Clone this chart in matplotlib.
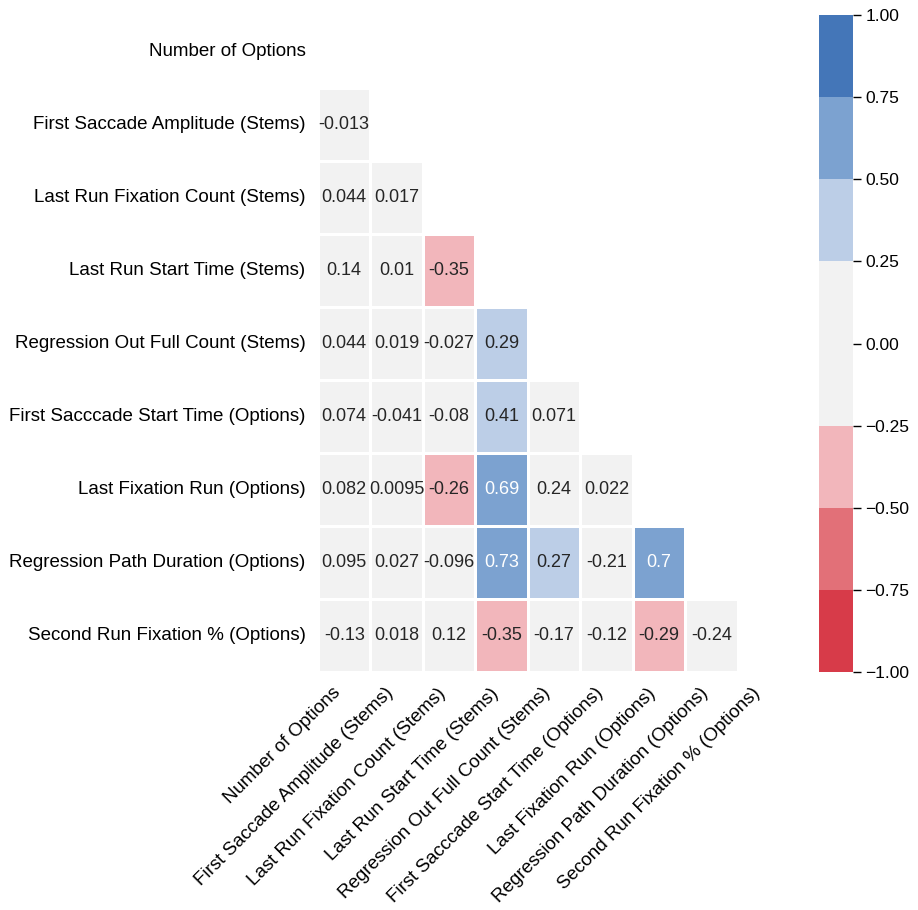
import numpy as np
import pandas as pd
import seaborn as sns
import matplotlib
matplotlib.use("Agg")
import matplotlib.pyplot as plt
from matplotlib.colors import ListedColormap

sns.set_style("white")
plt.rcParams['font.family'] = ['Liberation Sans', 'DejaVu Sans']
plt.rcParams['text.color'] = 'black'
plt.rcParams['xtick.color'] = 'black'
plt.rcParams['ytick.color'] = 'black'

labels = [
    "Number of Options",
    "First Saccade Amplitude (Stems)",
    "Last Run Fixation Count (Stems)",
    "Last Run Start Time (Stems)",
    "Regression Out Full Count (Stems)",
    "First Sacccade Start Time (Options)",
    "Last Fixation Run (Options)",
    "Regression Path Duration (Options)",
    "Second Run Fixation % (Options)",
]

# lower triangle of the correlation matrix, row by row
lower_rows = [
    [],
    [-0.013],
    [0.044, 0.017],
    [0.14, 0.01, -0.35],
    [0.044, 0.019, -0.027, 0.29],
    [0.074, -0.041, -0.08, 0.41, 0.071],
    [0.082, 0.0095, -0.26, 0.69, 0.24, 0.022],
    [0.095, 0.027, -0.096, 0.73, 0.27, -0.21, 0.7],
    [-0.13, 0.018, 0.12, -0.35, -0.17, -0.12, -0.29, -0.24],
]

palette = ["#d73b49", "#e27078", "#f2b6bb", "#f2f2f2",
           "#f2f2f2", "#bccee7", "#7ca2d0", "#4476b8"]

n = len(labels)
corr = np.eye(n)
for i, row in enumerate(lower_rows):
    for j, v in enumerate(row):
        corr[i, j] = v
        corr[j, i] = v
corr = pd.DataFrame(corr, index=labels, columns=labels)
mask = np.triu(np.ones((n, n), dtype=bool))

fig = plt.figure(figsize=(9.18, 9.10), dpi=100)
ax = fig.add_axes([0.3464, 0.2615, 0.5142, 0.722])
cax = fig.add_axes([0.892, 0.2615, 0.037, 0.722])

sns.heatmap(corr, mask=mask, cmap=ListedColormap(palette), vmin=-1, vmax=1,
            annot=True, annot_kws={"size": 13}, linewidths=2, linecolor="white",
            ax=ax, cbar_ax=cax)

ax.tick_params(length=0, labelsize=13.5)
ax.tick_params(axis="y", pad=9)
ax.tick_params(axis="x", pad=9)
ax.set_xticklabels(ax.get_xticklabels(), rotation=45, ha="right")
ax.set_yticklabels(ax.get_yticklabels(), rotation=0)

cax.set_yticks(np.arange(-1, 1.01, 0.25))
cax.tick_params(length=6, width=1, labelsize=12.5, color="black", pad=3)

fig.savefig("out.png", dpi=100)
